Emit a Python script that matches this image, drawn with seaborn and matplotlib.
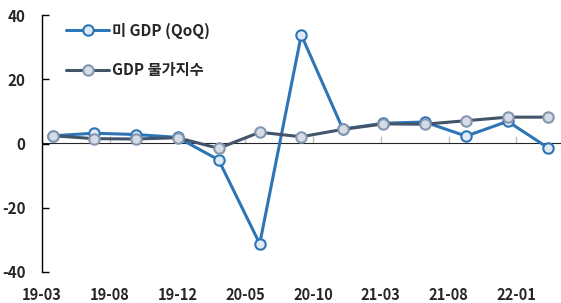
import matplotlib
matplotlib.use("Agg")
import matplotlib.pyplot as plt
import seaborn as sns
import pandas as pd
import numpy as np
import matplotlib.dates as mdates
from matplotlib.ticker import FixedLocator, FixedFormatter, NullFormatter

quarters = ["2019-03-31", "2019-06-30", "2019-09-30", "2019-12-31",
            "2020-03-31", "2020-06-30", "2020-09-30", "2020-12-31",
            "2021-03-31", "2021-06-30", "2021-09-30", "2021-12-31",
            "2022-03-31"]
us_gdp_qoq = [2.4, 3.2, 2.8, 1.9, -5.1, -31.2, 33.8, 4.5, 6.3, 6.7, 2.3, 6.9, -1.4]
gdp_deflator = [2.4, 1.5, 1.4, 1.8, -1.5, 3.5, 2.1, 4.4, 6.1, 6.0, 7.1, 8.2, 8.2]
series_names = ["미 GDP (QoQ)", "GDP 물가지수"]
tick_dates = ["2019-03-06", "2019-08-03", "2019-12-31", "2020-05-29",
              "2020-10-26", "2021-03-25", "2021-08-22", "2022-01-19"]
tick_labels = ["19-03", "19-08", "19-12", "20-05", "20-10", "21-03", "21-08", "22-01"]
y_ticks = [-40, -20, 0, 20, 40]

sns.set_style("white")
plt.rcParams["font.family"] = ["Noto Sans CJK KR", "DejaVu Sans"]

df = pd.DataFrame({
    "date": pd.to_datetime(quarters * 2),
    "value": us_gdp_qoq + gdp_deflator,
    "series": [series_names[0]] * len(quarters) + [series_names[1]] * len(quarters),
})

fig = plt.figure(figsize=(5.61, 3.03), dpi=100)
ax = fig.add_axes([42 / 561, 1 - 272 / 303, (561 - 42) / 561, (272 - 15) / 303])

line_colors = {series_names[0]: "#2E75B6", series_names[1]: "#44546A"}
face_colors = {series_names[0]: "#DEEBF7", series_names[1]: "#D6DCE5"}
edge_colors = {series_names[0]: "#2E75B6", series_names[1]: "#8497B0"}

for name in series_names:
    sub = df[df["series"] == name]
    sns.lineplot(data=sub, x="date", y="value", ax=ax, color=line_colors[name],
                 linewidth=2.2, marker="o", markersize=7.5,
                 markerfacecolor=face_colors[name], markeredgecolor=edge_colors[name],
                 markeredgewidth=1.5, label=name)

ax.set_ylim(-40, 40)
x0 = mdates.date2num(pd.Timestamp(tick_dates[0]))
ax.set_xlim(x0, mdates.date2num(pd.Timestamp("2022-04-28")))

tick_nums = [mdates.date2num(pd.Timestamp(d)) for d in tick_dates]
ax.xaxis.set_major_locator(FixedLocator(tick_nums))
ax.xaxis.set_major_formatter(FixedFormatter(tick_labels))
ax.tick_params(axis="x", length=0, pad=11, labelsize=10.5)
for lab in ax.get_xticklabels():
    lab.set_fontweight("bold")

ax.set_yticks(y_ticks)
ax.set_yticklabels([str(v) for v in y_ticks], fontsize=11, fontweight="bold")
ax.tick_params(axis="y", direction="in", length=5, width=1, color="#000000", pad=12, left=True)

for s in ["top", "right", "bottom"]:
    ax.spines[s].set_visible(False)
ax.spines["left"].set_color("#000000")
ax.spines["left"].set_linewidth(1)

# zero line with ticks
sec = ax.secondary_xaxis(0.5)
sec.xaxis.set_major_locator(FixedLocator(tick_nums))
sec.xaxis.set_major_formatter(NullFormatter())
sec.tick_params(axis="x", direction="out", length=5, width=1, color="#BFBFBF")
sec.spines["bottom"].set_color("#BFBFBF")
sec.spines["bottom"].set_linewidth(1.2)
ax.set_xlabel("")
ax.set_ylabel("")

leg = ax.legend(loc="upper left", bbox_to_anchor=(0.02, 1.025), frameon=False,
                handlelength=2.8, labelspacing=1.55, handletextpad=0.2,
                prop={"family": ["Noto Sans CJK KR", "DejaVu Sans"], "weight": "bold", "size": 11})

for ln in ax.get_lines():
    ln.set_zorder(3)

fig.savefig("out.png", dpi=100)
